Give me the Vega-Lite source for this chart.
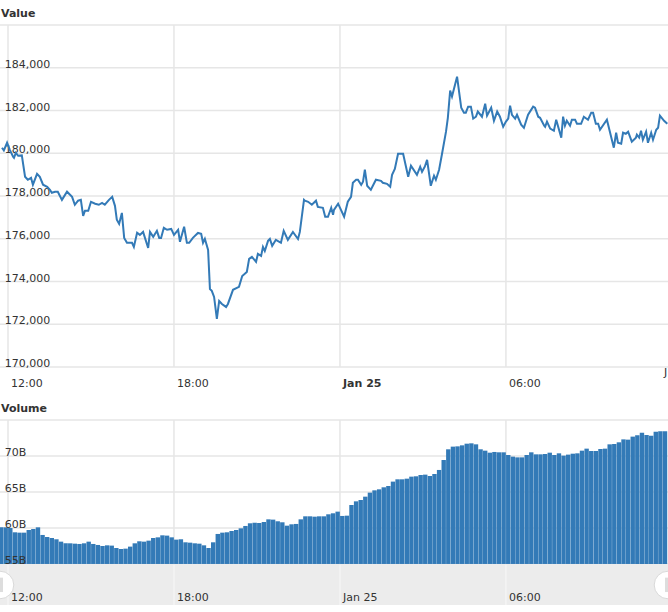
{
  "$schema": "https://vega.github.io/schema/vega-lite/v6.json",
  "padding": {"left": -2, "top": 8, "right": 0, "bottom": 0},
  "background": "#ffffff",
  "spacing": 14,
  "config": {
    "font": "DejaVu Sans",
    "view": {"stroke": null},
    "axis": {"disable": true},
    "text": {"fontSize": 11, "color": "#333333", "align": "left"},
    "title": {"anchor": "start", "frame": "group", "fontSize": 11, "fontWeight": "bold", "color": "#333333", "offset": 5, "dx": 1}
  },
  "datasets": {
    "times": [
      {"t":"2019-01-24 12:00","label":"12:00"},{"t":"2019-01-24 18:00","label":"18:00"},{"t":"2019-01-25 00:00","label":"Jan 25"},{"t":"2019-01-25 06:00","label":"06:00"}
    ],
    "valueGrid": [
      {"t0":"2019-01-24 11:42:39","t1":"2019-01-25 11:51:30","lx":"2019-01-24 11:53","v":170000,"label":"170,000"},
      {"t0":"2019-01-24 11:42:39","t1":"2019-01-25 11:51:30","lx":"2019-01-24 11:53","v":172000,"label":"172,000"},
      {"t0":"2019-01-24 11:42:39","t1":"2019-01-25 11:51:30","lx":"2019-01-24 11:53","v":174000,"label":"174,000"},
      {"t0":"2019-01-24 11:42:39","t1":"2019-01-25 11:51:30","lx":"2019-01-24 11:53","v":176000,"label":"176,000"},
      {"t0":"2019-01-24 11:42:39","t1":"2019-01-25 11:51:30","lx":"2019-01-24 11:53","v":178000,"label":"178,000"},
      {"t0":"2019-01-24 11:42:39","t1":"2019-01-25 11:51:30","lx":"2019-01-24 11:53","v":180000,"label":"180,000"},
      {"t0":"2019-01-24 11:42:39","t1":"2019-01-25 11:51:30","lx":"2019-01-24 11:53","v":182000,"label":"182,000"},
      {"t0":"2019-01-24 11:42:39","t1":"2019-01-25 11:51:30","lx":"2019-01-24 11:53","v":184000,"label":"184,000"},
      {"t0":"2019-01-24 11:42:39","t1":"2019-01-25 11:51:30","lx":"2019-01-24 11:53","v":186000,"label":""}
    ],
    "volumeGrid": [
      {"t0":"2019-01-24 11:42:39","t1":"2019-01-25 11:51:30","lx":"2019-01-24 11:53","b":55,"label":"55B"},
      {"t0":"2019-01-24 11:42:39","t1":"2019-01-25 11:51:30","lx":"2019-01-24 11:53","b":60,"label":"60B"},
      {"t0":"2019-01-24 11:42:39","t1":"2019-01-25 11:51:30","lx":"2019-01-24 11:53","b":65,"label":"65B"},
      {"t0":"2019-01-24 11:42:39","t1":"2019-01-25 11:51:30","lx":"2019-01-24 11:53","b":70,"label":"70B"},
      {"t0":"2019-01-24 11:42:39","t1":"2019-01-25 11:51:30","lx":"2019-01-24 11:53","b":75,"label":""}
    ],
    "price": [
      {"t":"2019-01-24 11:47","v":180260},{"t":"2019-01-24 11:51","v":180130},{"t":"2019-01-24 11:58","v":180490},{"t":"2019-01-24 12:04","v":180160},{"t":"2019-01-24 12:11","v":179840},{"t":"2019-01-24 12:13","v":179790},{"t":"2019-01-24 12:17","v":180020},{"t":"2019-01-24 12:22","v":179880},{"t":"2019-01-24 12:30","v":179900},{"t":"2019-01-24 12:37","v":178900},{"t":"2019-01-24 12:43","v":178760},{"t":"2019-01-24 12:50","v":178850},{"t":"2019-01-24 12:54","v":178530},{"t":"2019-01-24 13:03","v":179040},{"t":"2019-01-24 13:09","v":178900},{"t":"2019-01-24 13:16","v":178530},{"t":"2019-01-24 13:25","v":178430},{"t":"2019-01-24 13:31","v":178290},{"t":"2019-01-24 13:35","v":178150},{"t":"2019-01-24 13:42","v":178200},{"t":"2019-01-24 13:48","v":178200},{"t":"2019-01-24 13:57","v":177820},{"t":"2019-01-24 14:08","v":178200},{"t":"2019-01-24 14:19","v":177960},{"t":"2019-01-24 14:25","v":177590},{"t":"2019-01-24 14:32","v":177780},{"t":"2019-01-24 14:38","v":177820},{"t":"2019-01-24 14:43","v":177070},{"t":"2019-01-24 14:47","v":177310},{"t":"2019-01-24 14:54","v":177310},{"t":"2019-01-24 15:00","v":177730},{"t":"2019-01-24 15:09","v":177640},{"t":"2019-01-24 15:17","v":177590},{"t":"2019-01-24 15:24","v":177680},{"t":"2019-01-24 15:30","v":177590},{"t":"2019-01-24 15:39","v":177820},{"t":"2019-01-24 15:46","v":177960},{"t":"2019-01-24 15:52","v":177540},{"t":"2019-01-24 15:56","v":176890},{"t":"2019-01-24 16:01","v":176700},{"t":"2019-01-24 16:07","v":177210},{"t":"2019-01-24 16:12","v":176040},{"t":"2019-01-24 16:18","v":175810},{"t":"2019-01-24 16:29","v":175810},{"t":"2019-01-24 16:33","v":175620},{"t":"2019-01-24 16:40","v":176280},{"t":"2019-01-24 16:46","v":176180},{"t":"2019-01-24 16:53","v":176320},{"t":"2019-01-24 17:04","v":175570},{"t":"2019-01-24 17:08","v":176320},{"t":"2019-01-24 17:15","v":176090},{"t":"2019-01-24 17:23","v":176370},{"t":"2019-01-24 17:28","v":176040},{"t":"2019-01-24 17:32","v":176040},{"t":"2019-01-24 17:38","v":176510},{"t":"2019-01-24 17:45","v":176420},{"t":"2019-01-24 17:54","v":176460},{"t":"2019-01-24 18:00","v":176180},{"t":"2019-01-24 18:09","v":176420},{"t":"2019-01-24 18:13","v":175860},{"t":"2019-01-24 18:22","v":176560},{"t":"2019-01-24 18:28","v":175810},{"t":"2019-01-24 18:33","v":175810},{"t":"2019-01-24 18:41","v":176040},{"t":"2019-01-24 18:52","v":176270},{"t":"2019-01-24 18:59","v":176230},{"t":"2019-01-24 19:03","v":175810},{"t":"2019-01-24 19:07","v":176000},{"t":"2019-01-24 19:14","v":175480},{"t":"2019-01-24 19:18","v":173650},{"t":"2019-01-24 19:22","v":173560},{"t":"2019-01-24 19:27","v":173280},{"t":"2019-01-24 19:33","v":172250},{"t":"2019-01-24 19:38","v":173090},{"t":"2019-01-24 19:44","v":172950},{"t":"2019-01-24 19:53","v":172810},{"t":"2019-01-24 19:57","v":172950},{"t":"2019-01-24 20:08","v":173610},{"t":"2019-01-24 20:21","v":173750},{"t":"2019-01-24 20:28","v":174260},{"t":"2019-01-24 20:38","v":174450},{"t":"2019-01-24 20:43","v":175060},{"t":"2019-01-24 20:49","v":175150},{"t":"2019-01-24 20:58","v":174920},{"t":"2019-01-24 21:02","v":175290},{"t":"2019-01-24 21:09","v":175200},{"t":"2019-01-24 21:13","v":175620},{"t":"2019-01-24 21:17","v":175430},{"t":"2019-01-24 21:24","v":175900},{"t":"2019-01-24 21:28","v":175990},{"t":"2019-01-24 21:33","v":175670},{"t":"2019-01-24 21:41","v":175950},{"t":"2019-01-24 21:52","v":175810},{"t":"2019-01-24 21:58","v":176370},{"t":"2019-01-24 22:07","v":175950},{"t":"2019-01-24 22:18","v":176320},{"t":"2019-01-24 22:29","v":175990},{"t":"2019-01-24 22:33","v":176320},{"t":"2019-01-24 22:42","v":177820},{"t":"2019-01-24 22:44","v":177780},{"t":"2019-01-24 22:51","v":177730},{"t":"2019-01-24 22:59","v":177590},{"t":"2019-01-24 23:08","v":177780},{"t":"2019-01-24 23:12","v":177490},{"t":"2019-01-24 23:23","v":177450},{"t":"2019-01-24 23:28","v":177030},{"t":"2019-01-24 23:34","v":177030},{"t":"2019-01-24 23:41","v":177450},{"t":"2019-01-24 23:45","v":177120},{"t":"2019-01-24 23:47","v":177350},{"t":"2019-01-24 23:56","v":177640},{"t":"2019-01-25 00:09","v":177030},{"t":"2019-01-25 00:17","v":177730},{"t":"2019-01-25 00:24","v":177960},{"t":"2019-01-25 00:28","v":178620},{"t":"2019-01-25 00:35","v":178760},{"t":"2019-01-25 00:39","v":178760},{"t":"2019-01-25 00:46","v":178520},{"t":"2019-01-25 00:50","v":178670},{"t":"2019-01-25 00:54","v":179230},{"t":"2019-01-25 00:59","v":178480},{"t":"2019-01-25 01:07","v":178290},{"t":"2019-01-25 01:18","v":178760},{"t":"2019-01-25 01:29","v":178710},{"t":"2019-01-25 01:33","v":178620},{"t":"2019-01-25 01:42","v":178570},{"t":"2019-01-25 01:49","v":178430},{"t":"2019-01-25 01:53","v":178990},{"t":"2019-01-25 01:59","v":179270},{"t":"2019-01-25 02:06","v":179980},{"t":"2019-01-25 02:17","v":179980},{"t":"2019-01-25 02:28","v":178900},{"t":"2019-01-25 02:34","v":179420},{"t":"2019-01-25 02:47","v":178990},{"t":"2019-01-25 02:54","v":179370},{"t":"2019-01-25 02:58","v":179130},{"t":"2019-01-25 03:04","v":179370},{"t":"2019-01-25 03:09","v":179690},{"t":"2019-01-25 03:17","v":178480},{"t":"2019-01-25 03:24","v":178950},{"t":"2019-01-25 03:28","v":178760},{"t":"2019-01-25 03:35","v":179230},{"t":"2019-01-25 03:41","v":179930},{"t":"2019-01-25 03:50","v":181010},{"t":"2019-01-25 03:54","v":181660},{"t":"2019-01-25 03:59","v":182930},{"t":"2019-01-25 04:03","v":182650},{"t":"2019-01-25 04:14","v":183580},{"t":"2019-01-25 04:23","v":182130},{"t":"2019-01-25 04:29","v":181900},{"t":"2019-01-25 04:33","v":181900},{"t":"2019-01-25 04:38","v":182180},{"t":"2019-01-25 04:44","v":182180},{"t":"2019-01-25 04:49","v":181620},{"t":"2019-01-25 04:55","v":181710},{"t":"2019-01-25 04:59","v":181950},{"t":"2019-01-25 05:08","v":181710},{"t":"2019-01-25 05:15","v":182320},{"t":"2019-01-25 05:19","v":181760},{"t":"2019-01-25 05:28","v":182130},{"t":"2019-01-25 05:34","v":181520},{"t":"2019-01-25 05:41","v":181950},{"t":"2019-01-25 05:47","v":181710},{"t":"2019-01-25 05:54","v":181240},{"t":"2019-01-25 06:00","v":181480},{"t":"2019-01-25 06:05","v":181620},{"t":"2019-01-25 06:09","v":182230},{"t":"2019-01-25 06:13","v":181800},{"t":"2019-01-25 06:20","v":181620},{"t":"2019-01-25 06:24","v":181800},{"t":"2019-01-25 06:33","v":181340},{"t":"2019-01-25 06:39","v":181190},{"t":"2019-01-25 06:48","v":181800},{"t":"2019-01-25 06:59","v":182180},{"t":"2019-01-25 07:03","v":182130},{"t":"2019-01-25 07:10","v":181710},{"t":"2019-01-25 07:14","v":181660},{"t":"2019-01-25 07:23","v":181290},{"t":"2019-01-25 07:25","v":181240},{"t":"2019-01-25 07:29","v":181480},{"t":"2019-01-25 07:36","v":181150},{"t":"2019-01-25 07:44","v":181050},{"t":"2019-01-25 07:49","v":181570},{"t":"2019-01-25 08:00","v":180730},{"t":"2019-01-25 08:04","v":181710},{"t":"2019-01-25 08:08","v":181290},{"t":"2019-01-25 08:12","v":181520},{"t":"2019-01-25 08:19","v":181290},{"t":"2019-01-25 08:23","v":181570},{"t":"2019-01-25 08:30","v":181570},{"t":"2019-01-25 08:34","v":181380},{"t":"2019-01-25 08:43","v":181380},{"t":"2019-01-25 08:49","v":181710},{"t":"2019-01-25 08:58","v":181570},{"t":"2019-01-25 09:05","v":181900},{"t":"2019-01-25 09:09","v":181900},{"t":"2019-01-25 09:15","v":181380},{"t":"2019-01-25 09:20","v":181380},{"t":"2019-01-25 09:24","v":181100},{"t":"2019-01-25 09:39","v":181570},{"t":"2019-01-25 09:54","v":180260},{"t":"2019-01-25 09:59","v":180960},{"t":"2019-01-25 10:03","v":180490},{"t":"2019-01-25 10:10","v":180450},{"t":"2019-01-25 10:14","v":180960},{"t":"2019-01-25 10:20","v":180910},{"t":"2019-01-25 10:25","v":181010},{"t":"2019-01-25 10:33","v":180540},{"t":"2019-01-25 10:42","v":180730},{"t":"2019-01-25 10:44","v":180870},{"t":"2019-01-25 10:49","v":180730},{"t":"2019-01-25 10:53","v":181050},{"t":"2019-01-25 10:57","v":180630},{"t":"2019-01-25 11:04","v":181010},{"t":"2019-01-25 11:08","v":180490},{"t":"2019-01-25 11:15","v":180960},{"t":"2019-01-25 11:19","v":180630},{"t":"2019-01-25 11:26","v":181100},{"t":"2019-01-25 11:30","v":181190},{"t":"2019-01-25 11:34","v":181760},{"t":"2019-01-25 11:43","v":181520},{"t":"2019-01-25 11:50","v":181380}
    ],
    "volume": [
      {"t":"2019-01-24 11:45","b":60.09},{"t":"2019-01-24 11:55","b":60.09},{"t":"2019-01-24 12:05","b":60.0},{"t":"2019-01-24 12:15","b":59.4},{"t":"2019-01-24 12:25","b":59.35},{"t":"2019-01-24 12:35","b":59.35},{"t":"2019-01-24 12:45","b":59.72},{"t":"2019-01-24 12:55","b":59.86},{"t":"2019-01-24 13:05","b":60.09},{"t":"2019-01-24 13:15","b":59.03},{"t":"2019-01-24 13:25","b":58.75},{"t":"2019-01-24 13:35","b":58.61},{"t":"2019-01-24 13:45","b":58.43},{"t":"2019-01-24 13:55","b":58.1},{"t":"2019-01-24 14:05","b":57.87},{"t":"2019-01-24 14:15","b":57.87},{"t":"2019-01-24 14:25","b":57.82},{"t":"2019-01-24 14:35","b":57.78},{"t":"2019-01-24 14:45","b":57.87},{"t":"2019-01-24 14:55","b":58.1},{"t":"2019-01-24 15:05","b":57.78},{"t":"2019-01-24 15:15","b":57.64},{"t":"2019-01-24 15:25","b":57.5},{"t":"2019-01-24 15:35","b":57.59},{"t":"2019-01-24 15:45","b":57.55},{"t":"2019-01-24 15:55","b":57.22},{"t":"2019-01-24 16:05","b":57.08},{"t":"2019-01-24 16:15","b":57.13},{"t":"2019-01-24 16:25","b":57.41},{"t":"2019-01-24 16:35","b":57.87},{"t":"2019-01-24 16:45","b":58.15},{"t":"2019-01-24 16:55","b":58.1},{"t":"2019-01-24 17:05","b":58.24},{"t":"2019-01-24 17:15","b":58.61},{"t":"2019-01-24 17:25","b":58.7},{"t":"2019-01-24 17:35","b":58.98},{"t":"2019-01-24 17:45","b":58.94},{"t":"2019-01-24 17:55","b":58.7},{"t":"2019-01-24 18:05","b":58.38},{"t":"2019-01-24 18:15","b":58.43},{"t":"2019-01-24 18:25","b":58.01},{"t":"2019-01-24 18:35","b":57.96},{"t":"2019-01-24 18:45","b":57.87},{"t":"2019-01-24 18:55","b":57.82},{"t":"2019-01-24 19:05","b":57.59},{"t":"2019-01-24 19:15","b":57.22},{"t":"2019-01-24 19:25","b":58.01},{"t":"2019-01-24 19:35","b":59.17},{"t":"2019-01-24 19:45","b":59.35},{"t":"2019-01-24 19:55","b":59.4},{"t":"2019-01-24 20:05","b":59.58},{"t":"2019-01-24 20:15","b":59.72},{"t":"2019-01-24 20:25","b":59.95},{"t":"2019-01-24 20:35","b":60.28},{"t":"2019-01-24 20:45","b":60.65},{"t":"2019-01-24 20:55","b":60.74},{"t":"2019-01-24 21:05","b":60.69},{"t":"2019-01-24 21:15","b":60.83},{"t":"2019-01-24 21:25","b":61.2},{"t":"2019-01-24 21:35","b":61.16},{"t":"2019-01-24 21:45","b":60.93},{"t":"2019-01-24 21:55","b":60.79},{"t":"2019-01-24 22:05","b":60.32},{"t":"2019-01-24 22:15","b":60.51},{"t":"2019-01-24 22:25","b":60.56},{"t":"2019-01-24 22:35","b":61.2},{"t":"2019-01-24 22:45","b":61.62},{"t":"2019-01-24 22:55","b":61.62},{"t":"2019-01-24 23:05","b":61.57},{"t":"2019-01-24 23:15","b":61.62},{"t":"2019-01-24 23:25","b":61.62},{"t":"2019-01-24 23:35","b":61.9},
      {"t":"2019-01-24 23:45","b":62.04},{"t":"2019-01-24 23:55","b":62.27},{"t":"2019-01-25 00:05","b":61.67},{"t":"2019-01-25 00:15","b":61.71},{"t":"2019-01-25 00:25","b":63.19},{"t":"2019-01-25 00:35","b":63.7},{"t":"2019-01-25 00:45","b":63.89},{"t":"2019-01-25 00:55","b":64.35},{"t":"2019-01-25 01:05","b":64.91},{"t":"2019-01-25 01:15","b":65.23},{"t":"2019-01-25 01:25","b":65.37},{"t":"2019-01-25 01:35","b":65.65},{"t":"2019-01-25 01:45","b":65.83},{"t":"2019-01-25 01:55","b":66.44},{"t":"2019-01-25 02:05","b":66.76},{"t":"2019-01-25 02:15","b":66.76},{"t":"2019-01-25 02:25","b":66.85},{"t":"2019-01-25 02:35","b":67.13},{"t":"2019-01-25 02:45","b":67.18},{"t":"2019-01-25 02:55","b":67.36},{"t":"2019-01-25 03:05","b":67.41},{"t":"2019-01-25 03:15","b":67.22},{"t":"2019-01-25 03:25","b":67.5},{"t":"2019-01-25 03:35","b":68.06},{"t":"2019-01-25 03:45","b":69.44},{"t":"2019-01-25 03:55","b":70.93},{"t":"2019-01-25 04:05","b":71.3},{"t":"2019-01-25 04:15","b":71.34},{"t":"2019-01-25 04:25","b":71.48},{"t":"2019-01-25 04:35","b":71.71},{"t":"2019-01-25 04:45","b":71.76},{"t":"2019-01-25 04:55","b":71.62},{"t":"2019-01-25 05:05","b":70.93},{"t":"2019-01-25 05:15","b":70.74},{"t":"2019-01-25 05:25","b":70.46},{"t":"2019-01-25 05:35","b":70.56},{"t":"2019-01-25 05:45","b":70.51},{"t":"2019-01-25 05:55","b":70.51},{"t":"2019-01-25 06:05","b":70.14},{"t":"2019-01-25 06:15","b":69.91},{"t":"2019-01-25 06:25","b":69.81},{"t":"2019-01-25 06:35","b":69.81},{"t":"2019-01-25 06:45","b":70.14},{"t":"2019-01-25 06:55","b":70.51},{"t":"2019-01-25 07:05","b":70.23},{"t":"2019-01-25 07:15","b":70.23},{"t":"2019-01-25 07:25","b":70.28},{"t":"2019-01-25 07:35","b":70.46},{"t":"2019-01-25 07:45","b":70.14},{"t":"2019-01-25 07:55","b":70.37},{"t":"2019-01-25 08:05","b":70.05},{"t":"2019-01-25 08:15","b":70.19},{"t":"2019-01-25 08:25","b":70.32},{"t":"2019-01-25 08:35","b":70.37},{"t":"2019-01-25 08:45","b":70.74},{"t":"2019-01-25 08:55","b":71.02},{"t":"2019-01-25 09:05","b":70.69},{"t":"2019-01-25 09:15","b":70.69},{"t":"2019-01-25 09:25","b":70.97},{"t":"2019-01-25 09:35","b":71.02},{"t":"2019-01-25 09:45","b":71.62},{"t":"2019-01-25 09:55","b":71.67},{"t":"2019-01-25 10:05","b":71.9},{"t":"2019-01-25 10:15","b":72.31},{"t":"2019-01-25 10:25","b":72.27},{"t":"2019-01-25 10:35","b":72.69},{"t":"2019-01-25 10:45","b":72.87},{"t":"2019-01-25 10:55","b":73.24},{"t":"2019-01-25 11:05","b":72.92},{"t":"2019-01-25 11:15","b":72.82},{"t":"2019-01-25 11:25","b":73.38},{"t":"2019-01-25 11:35","b":73.43},{"t":"2019-01-25 11:45","b":73.43}
    ]
  },
  "vconcat": [
    {
      "title": "Value",
      "width": 668,
      "height": 342,
      "layer": [
        {
          "data": {"name": "valueGrid"},
          "mark": {"type": "rule", "color": "#e6e6e6", "strokeWidth": 1.5},
          "encoding": {
            "x": {"field": "t0", "type": "temporal", "scale": {"nice": false}},
            "x2": {"field": "t1"},
            "y": {"field": "v", "type": "quantitative", "scale": {"zero": false, "nice": false}}
          }
        },
        {
          "data": {"name": "times"},
          "mark": {"type": "rule", "color": "#e6e6e6", "strokeWidth": 1.5},
          "encoding": {"x": {"field": "t", "type": "temporal"}}
        },
        {
          "data": {"name": "valueGrid"},
          "transform": [{"filter": "datum.label != ''"}],
          "mark": {"type": "text", "dy": -3},
          "encoding": {
            "x": {"field": "lx", "type": "temporal"},
            "y": {"field": "v", "type": "quantitative"},
            "text": {"field": "label"}
          }
        },
        {
          "data": {"name": "price"},
          "mark": {"type": "line", "color": "#337ab7", "strokeWidth": 2},
          "encoding": {
            "x": {"field": "t", "type": "temporal"},
            "y": {"field": "v", "type": "quantitative"}
          }
        },
        {
          "data": {"name": "times"},
          "transform": [{"filter": "datum.label != 'Jan 25'"}],
          "mark": {"type": "text", "dx": 3, "dy": 17},
          "encoding": {
            "x": {"field": "t", "type": "temporal"},
            "y": {"datum": 170000, "type": "quantitative"},
            "text": {"field": "label"}
          }
        },
        {
          "data": {"name": "times"},
          "transform": [{"filter": "datum.label == 'Jan 25'"}],
          "mark": {"type": "text", "dx": 3, "dy": 17, "fontWeight": "bold"},
          "encoding": {
            "x": {"field": "t", "type": "temporal"},
            "y": {"datum": 170000, "type": "quantitative"},
            "text": {"field": "label"}
          }
        },
        {
          "data": {"values": [{"t": "2019-01-25 11:43", "label": "J"}]},
          "mark": {"type": "text", "dy": 6},
          "encoding": {
            "x": {"field": "t", "type": "temporal"},
            "y": {"datum": 170000, "type": "quantitative"},
            "text": {"field": "label"}
          }
        }
      ]
    },
    {
      "title": "Volume",
      "width": 668,
      "height": 185,
      "layer": [
        {
          "data": {"name": "volumeGrid"},
          "mark": {"type": "rule", "color": "#e6e6e6", "strokeWidth": 1.5},
          "encoding": {
            "x": {"field": "t0", "type": "temporal", "scale": {"nice": false, "padding": 0}},
            "x2": {"field": "t1"},
            "y": {"field": "b", "type": "quantitative", "scale": {"zero": false, "nice": false}}
          }
        },
        {
          "data": {"name": "times"},
          "mark": {"type": "rule", "color": "#e6e6e6", "strokeWidth": 1.5},
          "encoding": {
            "x": {"field": "t", "type": "temporal"},
            "y": {"datum": 75, "type": "quantitative"},
            "y2": {"datum": 55}
          }
        },
        {
          "data": {"name": "volume"},
          "mark": {"type": "bar", "color": "#337ab7", "width": 4.4, "clip": true},
          "encoding": {
            "x": {"field": "t", "type": "temporal"},
            "y": {"field": "b", "type": "quantitative"},
            "y2": {"datum": 55}
          }
        },
        {
          "data": {"values": [{"low": 49.3, "high": 54.9}]},
          "mark": {"type": "rect", "color": "#ececec"},
          "encoding": {
            "y": {"field": "low", "type": "quantitative"},
            "y2": {"field": "high"}
          }
        },
        {
          "data": {"name": "times"},
          "mark": {"type": "rule", "color": "#f4f4f4", "strokeWidth": 1.5},
          "encoding": {
            "x": {"field": "t", "type": "temporal"},
            "y": {"datum": 54.9, "type": "quantitative"},
            "y2": {"datum": 49.3}
          }
        },
        {
          "data": {"name": "volumeGrid"},
          "transform": [{"filter": "datum.label != ''"}],
          "mark": {"type": "text", "dy": -3},
          "encoding": {
            "x": {"field": "lx", "type": "temporal"},
            "y": {"field": "b", "type": "quantitative"},
            "text": {"field": "label"}
          }
        },
        {
          "data": {"name": "times"},
          "mark": {"type": "text", "dx": 3},
          "encoding": {
            "x": {"field": "t", "type": "temporal"},
            "y": {"datum": 50.28, "type": "quantitative"},
            "text": {"field": "label"}
          }
        },
        {
          "data": {"values": [{"t": "2019-01-24 11:42:39"}, {"t": "2019-01-25 11:51:30"}]},
          "mark": {"type": "point", "filled": true, "fill": "#ffffff", "stroke": "#d9d9d9", "strokeWidth": 1, "opacity": 1, "size": 760, "clip": true},
          "encoding": {
            "x": {"field": "t", "type": "temporal"},
            "y": {"datum": 52.08, "type": "quantitative"}
          }
        },
        {
          "data": {"values": [{"t": "2019-01-24 11:42:39"}, {"t": "2019-01-25 11:51:30"}]},
          "mark": {"type": "rule", "color": "#dddddd", "strokeWidth": 6, "clip": true},
          "encoding": {
            "x": {"field": "t", "type": "temporal"},
            "y": {"datum": 53.1, "type": "quantitative"},
            "y2": {"datum": 51.1}
          }
        },
        {
          "data": {"values": [{"t": "2019-01-24 11:53", "label": "JS chart by amCharts"}]},
          "mark": {"type": "text", "dy": 13},
          "encoding": {
            "x": {"field": "t", "type": "temporal"},
            "y": {"datum": 49.3, "type": "quantitative"},
            "text": {"field": "label"}
          }
        }
      ]
    }
  ]
}
